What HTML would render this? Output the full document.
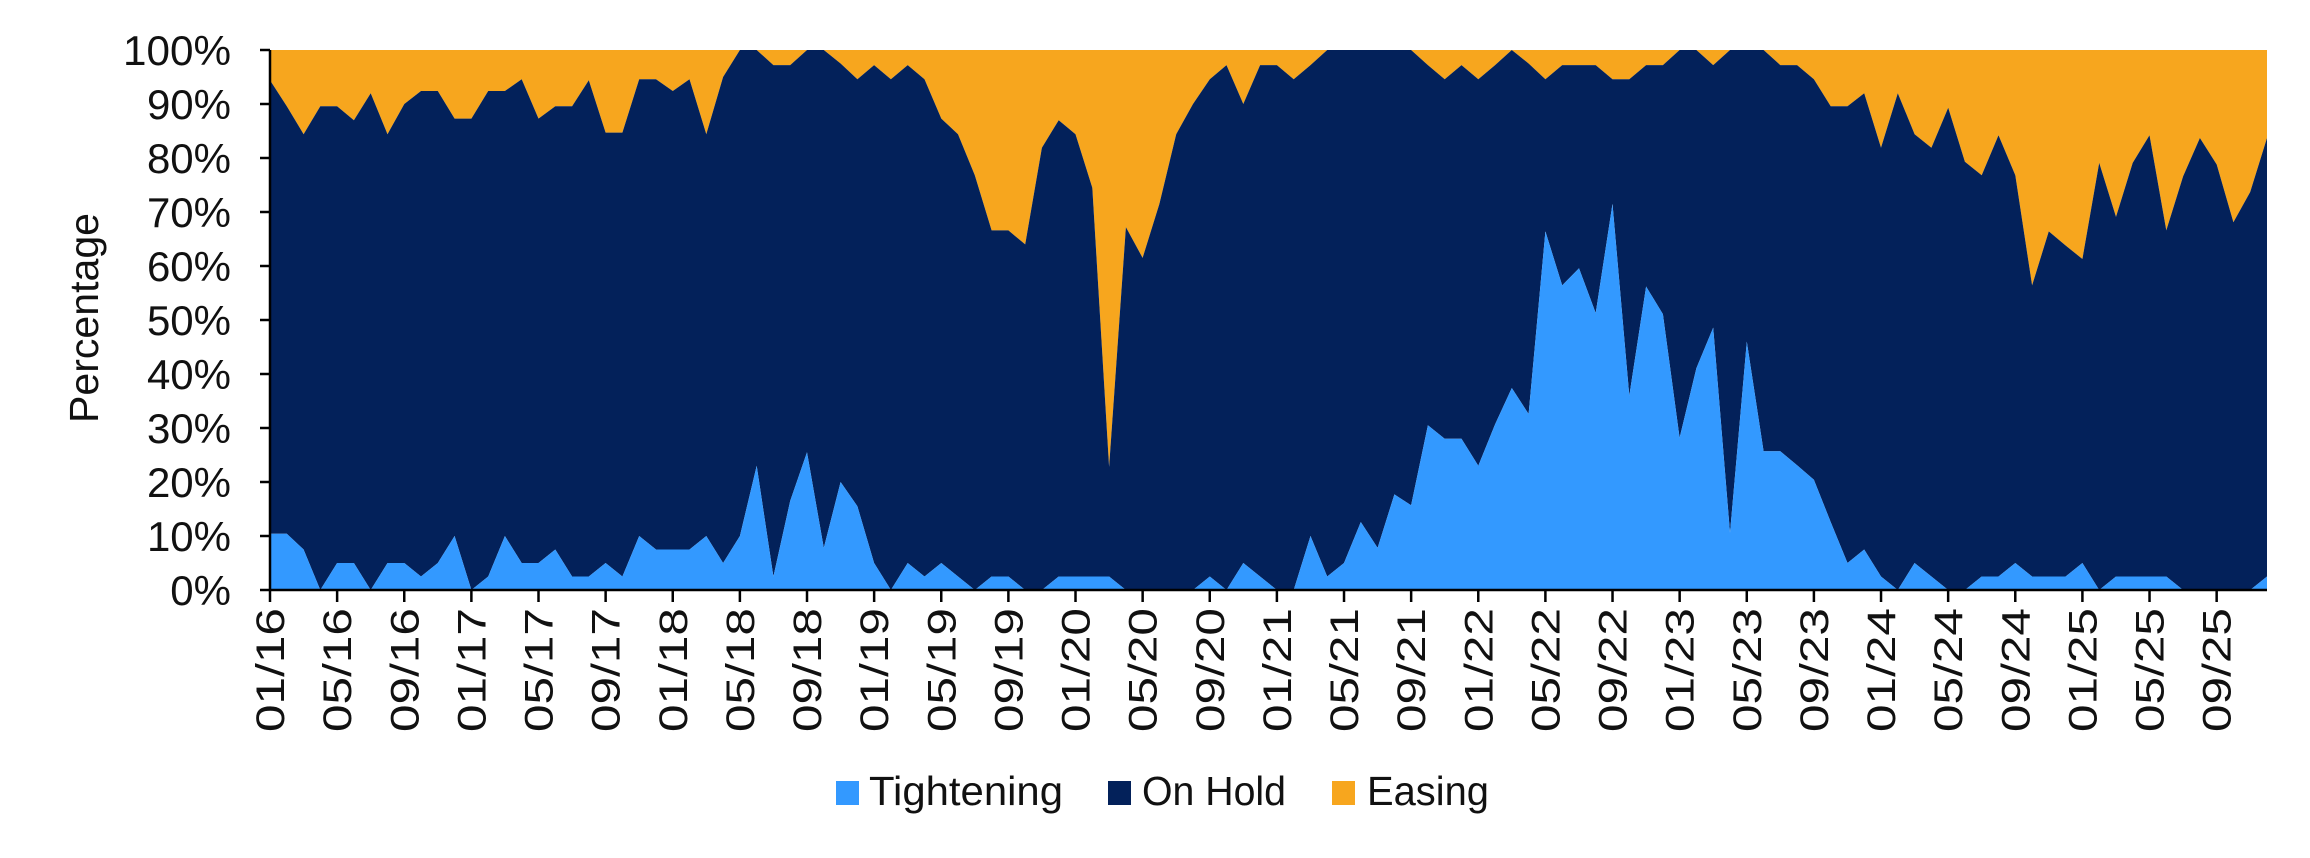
<!DOCTYPE html>
<html><head><meta charset="utf-8"><style>
html,body{margin:0;padding:0;background:#fff;}
svg{display:block;}
text{font-family:"Liberation Sans",sans-serif;fill:#111;}
</style></head><body>
<svg id="s" width="2310" height="858" xmlns="http://www.w3.org/2000/svg">
<g id="areas"></g>
<g id="axes" stroke="#000" stroke-width="2.5" fill="none"></g>
<g font-size="42" text-anchor="end">
<text x="231" y="65" textLength="108" lengthAdjust="spacingAndGlyphs">100%</text>
<text x="231" y="119">90%</text>
<text x="231" y="173">80%</text>
<text x="231" y="227">70%</text>
<text x="231" y="281">60%</text>
<text x="231" y="335">50%</text>
<text x="231" y="389">40%</text>
<text x="231" y="443">30%</text>
<text x="231" y="497">20%</text>
<text x="231" y="551">10%</text>
<text x="231" y="605">0%</text>
</g>
<text x="98" y="318" font-size="41" text-anchor="middle" transform="rotate(-90 98 318)" textLength="210" lengthAdjust="spacingAndGlyphs">Percentage</text>
<g id="xl" font-size="40" text-anchor="end"></g>
<rect x="836" y="781" width="23" height="24" fill="#3399ff"/>
<text x="869" y="805" font-size="41" textLength="194" lengthAdjust="spacingAndGlyphs">Tightening</text>
<rect x="1108" y="781" width="23" height="24" fill="#03215a"/>
<text x="1142" y="805" font-size="41" textLength="144" lengthAdjust="spacingAndGlyphs">On Hold</text>
<rect x="1332" y="781" width="23" height="24" fill="#f7a61e"/>
<text x="1367" y="805" font-size="41" textLength="122" lengthAdjust="spacingAndGlyphs">Easing</text>
</svg>
<script>
var T=[10.4,10.4,7.5,0,5,5,0,5,5,2.5,5,10,0,2.5,10,5,5,7.5,2.5,2.5,5,2.5,10,7.5,7.5,7.5,10,5,10,23,2.5,16.5,
25.5,7.8,20,15.5,5,0,5,2.5,5,2.5,0,2.5,2.5,0,0,2.5,2.5,2.5,2.5,0,0,0,0,0,2.5,0,5,2.5,0,0,10,2.5,5,12.6,7.8,17.7,15.7,30.5,28,28,23,30.7,37.4,32.6,66.4,56.4,59.6,51.3,
71.5,36,56.2,51.1,28.2,41.1,48.6,10.6,46,25.7,25.7,23.1,20.4,12.6,5,7.5,2.5,0,5,2.5,0,0,2.5,2.5,5,2.5,2.5,2.5,5,0,2.5,2.5,2.5,2.5,0,0,0,0,0,2.5];
var H=[94.4,89.6,84.4,89.6,89.6,87,92,84.4,90,92.4,92.4,87.3,87.3,92.4,92.4,94.6,87.3,89.6,89.6,94.4,84.7,84.7,94.6,94.6,92.4,94.6,84.4,95,100,100,97.2,97.2,
100,100,97.5,94.6,97.2,94.6,97.2,94.6,87.3,84.4,76.8,66.6,66.6,64,81.9,87,84.4,74.5,22.8,67.2,61.5,71.5,84.4,90,94.6,97.2,90,97.2,97.2,94.6,97.2,100,100,100,100,100,100,97.2,94.6,97.2,94.6,97.2,100,97.5,94.6,97.2,97.2,97.2,94.6,
94.6,97.2,97.2,100,100,97.2,100,100,100,97.2,97.2,94.6,89.6,89.6,92,81.9,92,84.4,81.9,89.3,79.3,76.8,84.2,76.8,56.4,66.4,63.8,61.3,79.1,69.1,79.1,84.2,66.6,76.6,83.7,78.8,68.1,73.7,83.7,62.3];
var N=T.length,x0=270,x1=2267,y0=50,y1=590,dx=(x1-x0)/(N-1);
function X(i){return x0+i*dx}function Y(v){return y1-v*(y1-y0)/100}
var ns="http://www.w3.org/2000/svg",g=document.getElementById('areas');
function poly(top,bot,c){var p=[];for(var i=0;i<N;i++)p.push(X(i).toFixed(1)+','+Y(top[i]).toFixed(1));for(var i=N-1;i>=0;i--)p.push(X(i).toFixed(1)+','+Y(bot[i]).toFixed(1));var e=document.createElementNS(ns,'polygon');e.setAttribute('points',p.join(' '));e.setAttribute('fill',c);g.appendChild(e);}
var Z=[],O=[];for(var i=0;i<N;i++){Z.push(0);O.push(100);}
poly(O,H,'#f7a61e');poly(H,T,'#03215a');poly(T,Z,'#3399ff');
var a=document.getElementById('axes');
function ln(a1,b1,a2,b2){var e=document.createElementNS(ns,'line');e.setAttribute('x1',a1);e.setAttribute('y1',b1);e.setAttribute('x2',a2);e.setAttribute('y2',b2);a.appendChild(e);}
ln(270,50,270,591);ln(269,590,x1,590);
for(var k=0;k<=10;k++){var y=Y(k*10);ln(260,y,270,y);}
var xl=document.getElementById('xl');var mm=['01','05','09'];
for(var k=0;k<30;k++){var xx=X(4*k);ln(xx,590,xx,602);
var t=document.createElementNS(ns,'text');var yr=16+Math.floor(k/3);t.textContent=mm[k%3]+'/'+yr;
var tx=xx+14,ty=608;t.setAttribute('x',tx);t.setAttribute('y',ty);t.setAttribute('textLength','124');t.setAttribute('lengthAdjust','spacingAndGlyphs');t.setAttribute('transform','rotate(-90 '+tx+' '+ty+')');xl.appendChild(t);}
</script>
</body></html>
